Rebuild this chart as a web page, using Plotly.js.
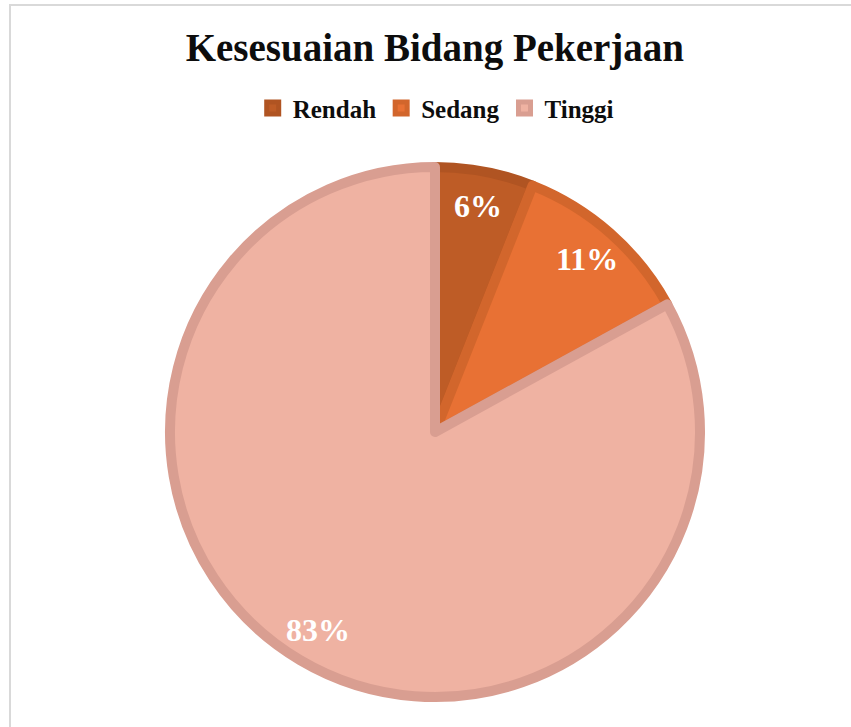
<!DOCTYPE html>
<html>
<head>
<meta charset="utf-8">
<script src="https://cdn.plot.ly/plotly-3.0.1.min.js"></script>
<style>
  html, body { margin: 0; padding: 0; background: #ffffff; overflow: hidden; }
  #chart { position: absolute; left: 0; top: 0; width: 851px; height: 727px; }
  #frame { position: absolute; left: 9px; top: 4px; width: 900px; height: 800px;
           border: 2px solid #d9d9d9; pointer-events: none; box-sizing: border-box; }
</style>
</head>
<body>
<div id="chart"></div>
<div id="frame"></div>
<script>
const categories = ["Rendah", "Sedang", "Tinggi"];
const values = [6, 11, 83];
const fillColors = ["#BE5C26", "#E87134", "#EFB2A2"];
const lineColors = ["#B05422", "#D2662C", "#D99E91"];
const chartTitle = "Kesesuaian Bidang Pekerjaan";

const serif = "Liberation Serif, Times New Roman, serif";
const W = 851, H = 727;
const dom = { x: [170 / W, 700 / W], y: [30 / H, 560 / H] };

const trace = {
  type: "pie",
  labels: categories,
  values: values,
  sort: false,
  direction: "clockwise",
  rotation: 0,
  marker: { colors: fillColors, line: { color: lineColors, width: 10 } },
  textinfo: "none",
  hoverinfo: "none",
  domain: dom
};

// Data labels placed Excel-style at ~0.86 of the radius, at each slice's mid-angle
const total = values.reduce((a, b) => a + b, 0);
const cxPx = (dom.x[0] + dom.x[1]) / 2 * W;
const cyPx = (dom.y[0] + dom.y[1]) / 2 * H;
const rPx = Math.min((dom.x[1] - dom.x[0]) * W, (dom.y[1] - dom.y[0]) * H) / 2;
const labelR = 0.87 * rPx;
let cum = 0;
const annotations = values.map((v, i) => {
  const mid = (cum + v / 2) / total * 2 * Math.PI;
  cum += v;
  const px = cxPx + labelR * Math.sin(mid);
  const py = cyPx + labelR * Math.cos(mid);
  return {
    xref: "paper", yref: "paper",
    x: px / W, y: py / H,
    xanchor: "center", yanchor: "middle",
    showarrow: false,
    text: "<b>" + Math.round(v / total * 100) + "%</b>",
    font: { family: serif, size: 32, color: "#ffffff" }
  };
});

const layout = {
  width: W, height: H,
  margin: { l: 0, r: 0, t: 0, b: 0 },
  paper_bgcolor: "#ffffff",
  title: {
    text: "<b>" + chartTitle + "</b>",
    font: { family: serif, size: 39, color: "#0d0d0d" },
    x: 0.511, xanchor: "center", y: 0.935, yanchor: "middle"
  },
  showlegend: true,
  legend: {
    orientation: "h",
    x: 0.512, xanchor: "center",
    y: 0.851, yanchor: "middle",
    font: { family: serif, size: 25, color: "#0d0d0d", weight: "bold" },
    itemwidth: 30,
    traceorder: "normal"
  },
  annotations: annotations
};

Plotly.newPlot("chart", [trace], layout, { displayModeBar: false, staticPlot: true });
</script>
</body>
</html>
